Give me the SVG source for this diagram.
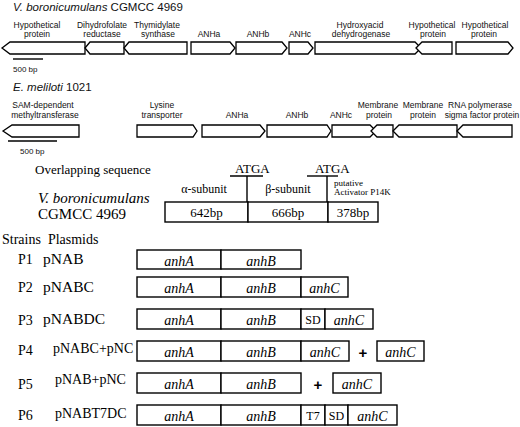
<svg xmlns="http://www.w3.org/2000/svg" width="520" height="427" viewBox="0 0 520 427">
<style>
.g{fill:#fff;stroke:#000;stroke-width:1.3}
.b{fill:#fff;stroke:#000;stroke-width:1.4}
.s{font-family:"Liberation Sans",Arial,sans-serif;font-size:8.5px;fill:#111;text-anchor:middle}
.t{font-family:"Liberation Sans",Arial,sans-serif;font-size:11.5px;fill:#111}
.sc{font-family:"Liberation Sans",Arial,sans-serif;font-size:8px;fill:#111}
.r{font-family:"Liberation Serif","Times New Roman",serif;fill:#000}
.i{font-family:"Liberation Serif","Times New Roman",serif;font-style:italic;font-size:14px;fill:#000;text-anchor:middle}
.m{font-family:"Liberation Serif","Times New Roman",serif;font-size:12px;fill:#000;text-anchor:middle}
.p{font-family:"Liberation Sans",Arial,sans-serif;font-weight:bold;font-size:15px;fill:#000;text-anchor:middle}
.ln{stroke:#000;stroke-width:1.4;fill:none}
</style>
<rect width="520" height="427" fill="#fff"/>
<g id="title1"><text class="t" x="13" y="11"><tspan font-style="italic">V. boronicumulans</tspan> CGMCC 4969</text></g>
<g id="row1">
<g id="v1"><polygon class="g" points="2,48 10,42 85,42 85,54 10,54"/><text class="s" x="37" y="28">Hypothetical</text><text class="s" x="37" y="37">protein</text></g>
<g id="v2"><polygon class="g" points="85,48 90,42 124,42 124,54 90,54"/><text class="s" x="102" y="28">Dihydrofolate</text><text class="s" x="102" y="37">reductase</text></g>
<g id="v3"><polygon class="g" points="124,48 129,42 187,42 187,54 129,54"/><text class="s" x="157" y="28">Thymidylate</text><text class="s" x="158" y="37">synthase</text></g>
<g id="v4"><polygon class="g" points="191,42 230,42 235,48 230,54 191,54"/><text class="s" x="209" y="37">ANHa</text></g>
<g id="v5"><polygon class="g" points="236,42 282,42 287,48 282,54 236,54"/><text class="s" x="258" y="37">ANHb</text></g>
<g id="v6"><polygon class="g" points="289,42 308,42 313,48 308,54 289,54"/><text class="s" x="300" y="37">ANHc</text></g>
<g id="v7"><polygon class="g" points="315,42 415,42 421,48 415,54 315,54"/><text class="s" x="360" y="28">Hydroxyacid</text><text class="s" x="361" y="37">dehydrogenase</text></g>
<g id="v8"><polygon class="g" points="416,48 422,42 452,42 452,54 422,54"/><text class="s" x="432" y="28">Hypothetical</text><text class="s" x="433" y="37">protein</text></g>
<g id="v9"><polygon class="g" points="456,42 508,42 513,48 508,54 456,54"/><text class="s" x="485" y="28">Hypothetical</text><text class="s" x="484" y="37">protein</text></g>
</g>
<g id="scale1"><line class="ln" x1="13" y1="59" x2="43" y2="59"/><text class="sc" x="13" y="72">500 bp</text></g>
<g id="title2"><text class="t" x="13" y="91"><tspan font-style="italic">E. meliloti</tspan> 1021</text></g>
<g id="row2">
<g id="e1"><polygon class="g" points="3,131 12,125 79,125 79,137 12,137"/><text class="s" x="43" y="108">SAM-dependent</text><text class="s" x="45" y="117.5">methyltransferase</text></g>
<g id="e2"><polygon class="g" points="137,125 193,125 197,131 193,137 137,137"/><text class="s" x="162" y="108">Lysine</text><text class="s" x="162" y="117.5">transporter</text></g>
<g id="e3"><polygon class="g" points="202,125 260,125 265,131 260,137 202,137"/><text class="s" x="237" y="117.5">ANHa</text></g>
<g id="e4"><polygon class="g" points="267,125 327,125 331,131 327,137 267,137"/><text class="s" x="297" y="117.5">ANHb</text></g>
<g id="e5"><polygon class="g" points="332,125 370,125 376,131 370,137 332,137"/><text class="s" x="341" y="117.5">ANHc</text></g>
<g id="e6"><polygon class="g" points="371,131 377,125 393,125 393,137 377,137"/><text class="s" x="378" y="108">Membrane</text><text class="s" x="379" y="117.5">protein</text></g>
<g id="e7"><polygon class="g" points="393,131 399,125 457,125 457,137 399,137"/><text class="s" x="423" y="108">Membrane</text><text class="s" x="423" y="117.5">protein</text></g>
<g id="e8"><polygon class="g" points="457,131 463,125 512,125 512,137 463,137"/><text class="s" x="480" y="108">RNA polymerase</text><text class="s" x="482" y="117.5">sigma factor protein</text></g>
</g>
<g id="scale2"><line class="ln" x1="8" y1="141" x2="57" y2="141"/><text class="sc" x="20" y="154">500 bp</text></g>
<g id="overlap">
<text class="r" x="35" y="174" font-size="13">Overlapping sequence</text>
<text class="r" x="38" y="203" font-size="15" font-style="italic">V. boronicumulans</text>
<text class="r" x="38" y="219" font-size="15">CGMCC 4969</text>
<text class="r" x="235" y="173" font-size="13">ATGA</text>
<text class="r" x="315" y="173" font-size="13">ATGA</text>
<line class="ln" x1="230" y1="176" x2="263" y2="176"/>
<line class="ln" x1="307" y1="176" x2="338" y2="176"/>
<line class="ln" x1="247" y1="176" x2="247" y2="202"/>
<line class="ln" x1="327" y1="176" x2="327" y2="202"/>
<text class="m" x="204" y="193">α-subunit</text>
<text class="m" x="288" y="193">β-subunit</text>
<text class="r" x="334" y="186" font-size="9">putative</text>
<text class="r" x="334" y="195" font-size="9">Activator P14K</text>
<rect class="b" x="165" y="202" width="83" height="20"/>
<rect class="b" x="248" y="202" width="80" height="20"/>
<rect class="b" x="328" y="202" width="50" height="20"/>
<text class="r" x="206.5" y="217" font-size="13" text-anchor="middle">642bp</text>
<text class="r" x="288" y="217" font-size="13" text-anchor="middle">666bp</text>
<text class="r" x="353" y="217" font-size="13" text-anchor="middle">378bp</text>
</g>
<g id="header"><text class="r" x="2" y="244" font-size="14" xml:space="preserve">Strains  Plasmids</text></g>
<g id="P1">
<text class="r" x="18" y="264" font-size="14">P1</text><text class="r" x="43" y="264" font-size="15.5">pNAB</text>
<rect class="b" x="137" y="250" width="84" height="19"/><rect class="b" x="221" y="250" width="80" height="19"/>
<text class="i" x="179" y="266">anhA</text><text class="i" x="261" y="266">anhB</text>
</g>
<g id="P2">
<text class="r" x="18" y="292" font-size="14">P2</text><text class="r" x="43" y="292" font-size="15.5">pNABC</text>
<rect class="b" x="137" y="277" width="84" height="20"/><rect class="b" x="221" y="277" width="80" height="20"/><rect class="b" x="301" y="277" width="47" height="20"/>
<text class="i" x="179" y="293">anhA</text><text class="i" x="261" y="293">anhB</text><text class="i" x="324.5" y="293">anhC</text>
</g>
<g id="P3">
<text class="r" x="18" y="325" font-size="14">P3</text><text class="r" x="43" y="324" font-size="15.5">pNABDC</text>
<rect class="b" x="137" y="309" width="84" height="20"/><rect class="b" x="221" y="309" width="80" height="20"/><rect class="b" x="301" y="309" width="24" height="20"/><rect class="b" x="325" y="309" width="48" height="20"/>
<text class="i" x="179" y="325">anhA</text><text class="i" x="261" y="325">anhB</text><text class="m" x="313" y="324">SD</text><text class="i" x="349" y="325">anhC</text>
</g>
<g id="P4">
<text class="r" x="18" y="355" font-size="14">P4</text><text class="r" x="53" y="353" font-size="14">pNABC+pNC</text>
<rect class="b" x="137" y="341" width="84" height="20"/><rect class="b" x="221" y="341" width="80" height="20"/><rect class="b" x="301" y="341" width="48" height="20"/>
<text class="i" x="179" y="357">anhA</text><text class="i" x="261" y="357">anhB</text><text class="i" x="325" y="357">anhC</text>
<text class="p" x="363" y="357.5">+</text>
<rect class="b" x="377" y="341" width="47" height="20"/><text class="i" x="400.5" y="357">anhC</text>
</g>
<g id="P5">
<text class="r" x="18" y="389" font-size="14">P5</text><text class="r" x="55" y="384" font-size="14">pNAB+pNC</text>
<rect class="b" x="137" y="373" width="84" height="20"/><rect class="b" x="221" y="373" width="80" height="20"/>
<text class="i" x="179" y="389">anhA</text><text class="i" x="261" y="389">anhB</text>
<text class="p" x="318" y="389.5">+</text>
<rect class="b" x="333" y="373" width="48" height="20"/><text class="i" x="357" y="389">anhC</text>
</g>
<g id="P6">
<text class="r" x="18" y="420" font-size="14">P6</text><text class="r" x="55" y="418" font-size="14">pNABT7DC</text>
<rect class="b" x="137" y="405" width="84" height="20"/><rect class="b" x="221" y="405" width="80" height="20"/><rect class="b" x="301" y="405" width="24" height="20"/><rect class="b" x="325" y="405" width="23" height="20"/><rect class="b" x="348" y="405" width="49" height="20"/>
<text class="i" x="179" y="421">anhA</text><text class="i" x="261" y="421">anhB</text><text class="m" x="313" y="420">T7</text><text class="m" x="336.5" y="420">SD</text><text class="i" x="372.5" y="421">anhC</text>
</g>
<g id="connectors"></g>
</svg>
